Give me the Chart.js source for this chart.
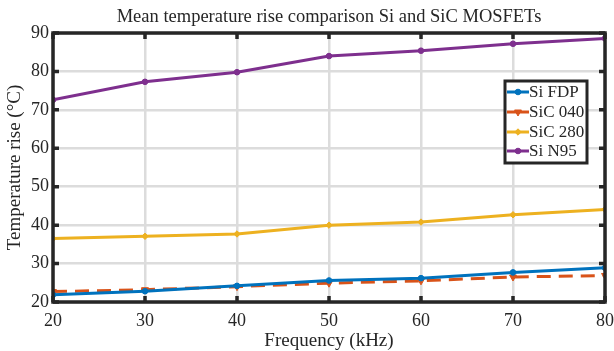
<!DOCTYPE html>
<html>
<head>
<meta charset="utf-8">
<script src="https://cdn.jsdelivr.net/npm/chart.js@4/dist/chart.umd.min.js"></script>
<style>
html,body{margin:0;padding:0;background:#fff;}
#wrap{width:614px;height:351px;}
</style>
</head>
<body>
<div id="wrap"><canvas id="c" width="614" height="351"></canvas></div>
<script>
const frequencies = [20, 30, 40, 50, 60, 70, 80];
const siFDP  = [21.9, 22.8, 24.2, 25.6, 26.2, 27.7, 28.9];
const siC040 = [22.7, 23.2, 24.0, 24.9, 25.5, 26.5, 26.9];
const siC280 = [36.5, 37.1, 37.7, 40.0, 40.8, 42.7, 44.1];
const siN95  = [72.6, 77.3, 79.8, 84.0, 85.4, 87.2, 88.6];
const seriesLabels = ['Si FDP', 'SiC 040', 'SiC 280', 'Si N95'];
const xTicks = [20, 30, 40, 50, 60, 70, 80];
const yTicks = [20, 30, 40, 50, 60, 70, 80, 90];

const FONT = "'Liberation Serif', 'Times New Roman', serif";
const toXY = arr => arr.map((v, i) => ({x: frequencies[i], y: v}));

const styles = [
  {color: '#0072BD', dash: [], point: 'circle', r: 2.8, rot: 0},
  {color: '#D95319', dash: [14, 8], point: 'triangle', r: 4, rot: 180},
  {color: '#EDB120', dash: [], point: 'rectRot', r: 3.2, rot: 0},
  {color: '#7E2F8E', dash: [], point: 'circle', r: 2.8, rot: 0}
];
const allData = [siFDP, siC040, siC280, siN95];

const datasets = allData.map((d, i) => ({
  label: seriesLabels[i],
  data: toXY(d),
  borderColor: styles[i].color,
  backgroundColor: styles[i].color,
  borderWidth: 3,
  borderDash: styles[i].dash,
  pointStyle: styles[i].point,
  pointRadius: styles[i].r,
  pointRotation: styles[i].rot,
  pointBorderWidth: 1,
  tension: 0
}));

const boxPlugin = {
  id: 'boxPlugin',
  afterDraw(chart) {
    const ctx = chart.ctx;
    const a = chart.chartArea;
    const xs = chart.scales.x, ys = chart.scales.y;
    ctx.save();
    ctx.strokeStyle = '#262626';
    ctx.lineWidth = 3.5;
    ctx.setLineDash([]);
    ctx.strokeRect(a.left, a.top, a.right - a.left, a.bottom - a.top);
    const tl = 6;
    ctx.beginPath();
    xTicks.forEach(t => {
      const px = xs.getPixelForValue(t);
      ctx.moveTo(px, a.bottom); ctx.lineTo(px, a.bottom - tl);
      ctx.moveTo(px, a.top); ctx.lineTo(px, a.top + tl);
    });
    yTicks.forEach(t => {
      const py = ys.getPixelForValue(t);
      ctx.moveTo(a.left, py); ctx.lineTo(a.left + tl, py);
      ctx.moveTo(a.right, py); ctx.lineTo(a.right - tl, py);
    });
    ctx.stroke();

    // legend box
    const lx = 505, ly = 81, lw = 82, lh = 82;
    ctx.fillStyle = '#fff';
    ctx.fillRect(lx, ly, lw, lh);
    ctx.lineWidth = 3;
    ctx.strokeStyle = '#262626';
    ctx.strokeRect(lx, ly, lw, lh);
    const rows = [92, 112, 132, 151];
    chart.data.datasets.forEach((ds, i) => {
      const y = rows[i];
      ctx.strokeStyle = ds.borderColor;
      ctx.lineWidth = 3;
      ctx.setLineDash([]);
      ctx.beginPath();
      ctx.moveTo(507, y); ctx.lineTo(529, y);
      ctx.stroke();
      ctx.fillStyle = ds.borderColor;
      ctx.lineWidth = 1;
      Chart.helpers.drawPoint(ctx, {
        pointStyle: ds.pointStyle, radius: ds.pointRadius, rotation: ds.pointRotation, borderWidth: 1
      }, 518, y);
      ctx.fillStyle = '#262626';
      ctx.font = '17px ' + FONT;
      ctx.textBaseline = 'middle';
      ctx.textAlign = 'left';
      ctx.fillText(ds.label, 529, y + 1);
    });
    ctx.restore();
  }
};

new Chart(document.getElementById('c'), {
  type: 'line',
  data: {datasets},
  options: {
    responsive: false,
    animation: false,
    layout: {padding: {left: 0, right: 0, top: 0, bottom: 0}},
    plugins: {
      legend: {display: false},
      tooltip: {enabled: false},
      title: {
        display: true,
        fullSize: false,
        text: 'Mean temperature rise comparison Si and SiC MOSFETs',
        color: '#262626',
        font: {family: FONT, size: 18.5, weight: 'normal', lineHeight: 1.2},
        padding: {top: 6, bottom: 4.8}
      }
    },
    scales: {
      x: {
        type: 'linear',
        min: 20, max: 80,
        afterBuildTicks: s => { s.ticks = xTicks.map(v => ({value: v})); },
        grid: {color: '#dcdcdc', lineWidth: 2.5, drawTicks: false},
        border: {display: false},
        ticks: {color: '#262626', font: {family: FONT, size: 18}, padding: 8, maxRotation: 0},
        title: {display: true, text: 'Frequency (kHz)', color: '#262626', font: {family: FONT, size: 19, lineHeight: 1}, padding: {top: 0, bottom: 0}},
        afterFit: s => { s.height = 49; s.paddingLeft = 0; s.paddingRight = 9; }
      },
      y: {
        min: 20, max: 90,
        afterBuildTicks: s => { s.ticks = yTicks.map(v => ({value: v})); },
        grid: {color: '#dcdcdc', lineWidth: 2.5, drawTicks: false},
        border: {display: false},
        ticks: {color: '#262626', font: {family: FONT, size: 18}, padding: 4},
        title: {display: true, text: 'Temperature rise (°C)', color: '#262626', font: {family: FONT, size: 19, lineHeight: 1}, padding: {top: 6, bottom: 0}},
        afterFit: s => { s.width = 53; s.paddingTop = 0; s.paddingBottom = 0; }
      }
    }
  },
  plugins: [boxPlugin]
});
</script>
</body>
</html>
